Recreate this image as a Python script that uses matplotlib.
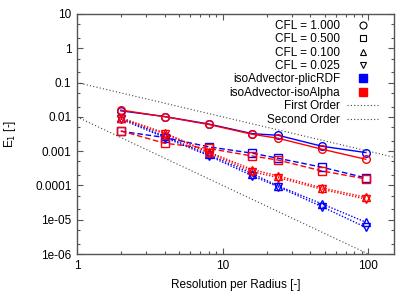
import numpy as np
import matplotlib
matplotlib.use('Agg')
import matplotlib.pyplot as plt
from matplotlib.lines import Line2D
from matplotlib.ticker import FixedLocator, LogLocator, NullFormatter

res = [2, 4, 8, 16, 24, 48, 96]

# isoAdvector-plicRDF (blue)
rdf_cfl1000 = [0.0150, 0.0102, 0.0062, 0.00323, 0.0029, 0.00139, 0.00091]
rdf_cfl0500 = [0.0038, 0.0025, 0.00134, 0.00087, 0.00062, 0.00034, 0.000166]
rdf_cfl0100 = [0.0095, 0.0027, 0.00080, 0.00022, 0.000097, 0.000029, 0.0000085]
rdf_cfl0025 = [0.0086, 0.0025, 0.00074, 0.00019, 0.000092, 0.000024, 0.0000060]

# isoAdvector-isoAlpha (red)
alpha_cfl1000 = [0.0158, 0.0101, 0.0060, 0.0031, 0.00238, 0.00114, 0.00058]
alpha_cfl0500 = [0.0039, 0.0017, 0.0012, 0.00072, 0.00055, 0.000265, 0.000155]
alpha_cfl0100 = [0.0094, 0.0034, 0.00095, 0.00029, 0.00019, 0.000085, 0.000045]
alpha_cfl0025 = [0.0088, 0.0032, 0.00090, 0.00025, 0.00017, 0.000077, 0.000040]

cfl_labels = ['CFL = 1.000', 'CFL = 0.500', 'CFL = 0.100', 'CFL = 0.025']
markers = ['o', 's', '^', 'v']
styles = ['-', (0, (4, 2)), (0, (1, 1.2)), (0, (1, 1.2))]

plt.rcParams['font.family'] = ['Liberation Sans', 'DejaVu Sans']
plt.rcParams['font.size'] = 8.5

fig = plt.figure(figsize=(4.15, 2.91), dpi=100)
ax = fig.add_axes([0.1855, 0.127, 0.764, 0.825])

series = [(rdf_cfl1000, rdf_cfl0500, rdf_cfl0100, rdf_cfl0025),
          (alpha_cfl1000, alpha_cfl0500, alpha_cfl0100, alpha_cfl0025)]
colors = ['#0000ff', '#ff0000']
for group, col in zip(series, colors):
    for vals, m, ls in zip(group, markers, styles):
        ax.plot(res, vals, color=col, ls=ls, lw=1.0, marker=m, ms=5.5,
                mfc='none', mec=col, mew=1.0)

xr = np.array([1.0, 150.0])
ax.plot(xr, 0.1 / xr, color='#444444', ls=(0, (1, 2)), lw=0.8)
ax.plot(xr, 0.01 / xr**2, color='#444444', ls=(0, (1, 2)), lw=0.8)

ax.set_xscale('log')
ax.set_yscale('log')
ax.set_xlim(1, 150)
ax.set_ylim(1e-6, 10)

ax.yaxis.set_major_locator(FixedLocator([1e-6, 1e-5, 1e-4, 1e-3, 1e-2, 1e-1, 1, 10]))
ax.set_yticklabels(['1e-06', '1e-05', '0.0001', '0.001', '0.01', '0.1', '1', '10'])
ax.yaxis.set_minor_locator(LogLocator(base=10, subs=[2, 5]))
ax.yaxis.set_minor_formatter(NullFormatter())
ax.xaxis.set_major_locator(FixedLocator([1, 10, 100]))
ax.set_xticklabels(['1', '10', '100'])
ax.xaxis.set_minor_locator(LogLocator(base=10, subs=np.arange(2, 10)))
ax.xaxis.set_minor_formatter(NullFormatter())

ax.tick_params(which='both', direction='in', top=True, right=True, color='#555555')
ax.tick_params(which='major', length=4, width=0.8, pad=4)
ax.tick_params(which='minor', length=2, width=0.8)
for s in ax.spines.values():
    s.set_color('#555555')
    s.set_linewidth(1.0)

ax.set_xlabel('Resolution per Radius [-]', labelpad=5)
ax.set_ylabel('E$_1$ [-]', labelpad=12)

handles = [Line2D([], [], color='black', ls='none', marker=m, ms=5, mfc='none', mew=0.8) for m in markers]
handles += [Line2D([], [], color='#0000ff', ls='none', marker='s', ms=6),
            Line2D([], [], color='#ff0000', ls='none', marker='s', ms=6),
            Line2D([], [], color='#444444', ls=(0, (1, 2)), lw=0.8),
            Line2D([], [], color='#444444', ls=(0, (1, 2)), lw=0.8)]
labels = cfl_labels + ['isoAdvector-plicRDF', 'isoAdvector-isoAlpha', 'First Order', 'Second Order']
ax.legend(handles, labels, loc='upper right', bbox_to_anchor=(0.975, 1.01), frameon=False,
          markerfirst=False, handlelength=2.6, handletextpad=0.6, labelspacing=0.12,
          borderpad=0.2, fontsize=8.5)

fig.savefig('out.png', dpi=100)
